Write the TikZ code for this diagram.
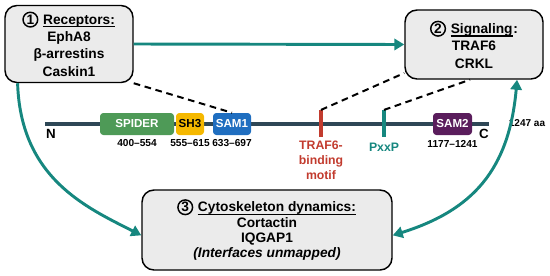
\documentclass[tikz,border=0pt]{standalone}
\usepackage{fontspec}
\setmainfont{Liberation Sans}
\usetikzlibrary{arrows.meta,positioning,calc}
\definecolor{boxgray}{HTML}{EBEBEB}
\definecolor{linkteal}{HTML}{16877F}
\definecolor{chain}{HTML}{2E4756}
\definecolor{spidergreen}{HTML}{4E9A57}
\definecolor{shyellow}{HTML}{F5B800}
\definecolor{samblue}{HTML}{1F6EC0}
\definecolor{sampurple}{HTML}{5A1D5C}
\definecolor{motifred}{HTML}{C23B2E}
\newcommand{\stepno}[1]{\tikz[baseline=(no.base)]\node[draw,circle,line width=1.1pt,inner sep=0pt,minimum size=11pt] (no) {#1};}
\newcommand{\headline}[1]{\tikz[baseline=(hl.base)]{\node[draw=none,fill=none,inner sep=0pt,minimum size=0pt] (hl) {#1};
  \draw[line width=0.9pt,sharp corners] ([yshift=-1.8pt]hl.base west) -- ([yshift=-1.8pt]hl.base east);}}

\begin{document}
\begin{tikzpicture}[x=0.75pt,y=-0.75pt,
  box/.style={draw,fill=boxgray,rounded corners=9pt,line width=1.1pt,align=center,inner sep=0pt,
              font=\fontsize{10.3}{13}\selectfont\bfseries},
  domainbox/.style={rounded corners=2.5pt,minimum height=16.5pt,inner sep=0pt,text=white,
                 font=\fontsize{8.7}{10}\selectfont\bfseries},
  spanlabel/.style={font=\fontsize{7.6}{9}\selectfont\bfseries,inner sep=1pt},
  sitemark/.style={minimum width=2.3pt,minimum height=20pt,inner sep=0pt},
  sitelabel/.style={align=center,font=\fontsize{9.2}{10.9}\selectfont\bfseries,inner sep=1pt},
  >={Triangle[length=7.5pt,width=8.5pt]},
  link/.style={draw=linkteal,line width=2.2pt,->},
  contact/.style={line width=1.5pt,dash pattern=on 5pt off 3.5pt}]
\useasboundingbox (0,0) rectangle (550,275);
% the three partner groups
\node[box,minimum width=96pt,minimum height=57.75pt] (rec) at (69,44)
  {\stepno{1} \headline{Receptors:}\\EphA8\\β-arrestins\\Caskin1};
\node[box,minimum width=103.5pt,minimum height=51.75pt] (sig) at (474,44.5)
  {\stepno{2} \headline{Signaling}:\\TRAF6\\CRKL};
\node[box,minimum width=187.5pt,minimum height=60pt,font=\fontsize{10.3}{11.5}\selectfont\bfseries] (cyto) at (267,230)
  {\stepno{3} \headline{Cytoskeleton dynamics:}\\Cortactin\\IQGAP1\\\textit{(Interfaces unmapped)}};
% protein chain
\coordinate (nterm) at (45,124);
\coordinate (cterm) at (489,124);
\draw[chain,line width=3pt] (nterm) -- (cterm);
\node[font=\fontsize{10}{12}\selectfont\bfseries] (nlab) at (51,134) {N};
\node[font=\fontsize{10}{12}\selectfont\bfseries] (clab) at (484,134) {C};
\node[font=\fontsize{7.5}{9}\selectfont\bfseries] (len) at (527,123) {1247 aa};
\node[domainbox,fill=spidergreen,minimum width=55.5pt] (spider) at (137,124) {SPIDER};
\node[domainbox,fill=shyellow,text=black,minimum width=21pt] (sh3) at (190,124) {SH3};
\node[domainbox,fill=samblue,minimum width=28.5pt] (sam1) at (232,124) {SAM1};
\node[domainbox,fill=sampurple,minimum width=29.25pt] (sam2) at (452.5,124) {SAM2};
\node[spanlabel,below=2pt of spider] (spiderpos) {400–554};
\node[spanlabel,below=2pt of sh3] (sh3pos) {555–615};
\node[spanlabel,below=2pt of sam1] (sam1pos) {633–697};
\node[spanlabel,below=3pt of sam2] (sam2pos) {1177–1241};
\node[sitemark,fill=motifred] (traf) at (321,123.5) {};
\node[sitemark,fill=linkteal] (pxxp) at (384,123.5) {};
\node[sitelabel,text=motifred,below=2pt of traf] (traflab) {TRAF6-\\binding\\motif};
\node[sitelabel,text=linkteal,below=3pt of pxxp] (pxxplab) {PxxP};
% contacts
\draw[contact] (rec.south east) -- (sam1.north);
\draw[contact] (traf.north) -- ([yshift=5pt]sig.south west);
\draw[contact] (pxxp.north) -- ([xshift=-3pt]sig.south);
% functional links
\draw[link] (rec.east) -- (sig.west);
\draw[link] ([xshift=10pt]rec.south west) .. controls +(3,95) and +(-55,-28) .. ([yshift=-4pt]cyto.west);
\draw[link,<->] ([yshift=-4pt]cyto.east) .. controls +(80,-25) and +(-8,90) .. ([xshift=-20pt]sig.south east);
\end{tikzpicture}
\end{document}
